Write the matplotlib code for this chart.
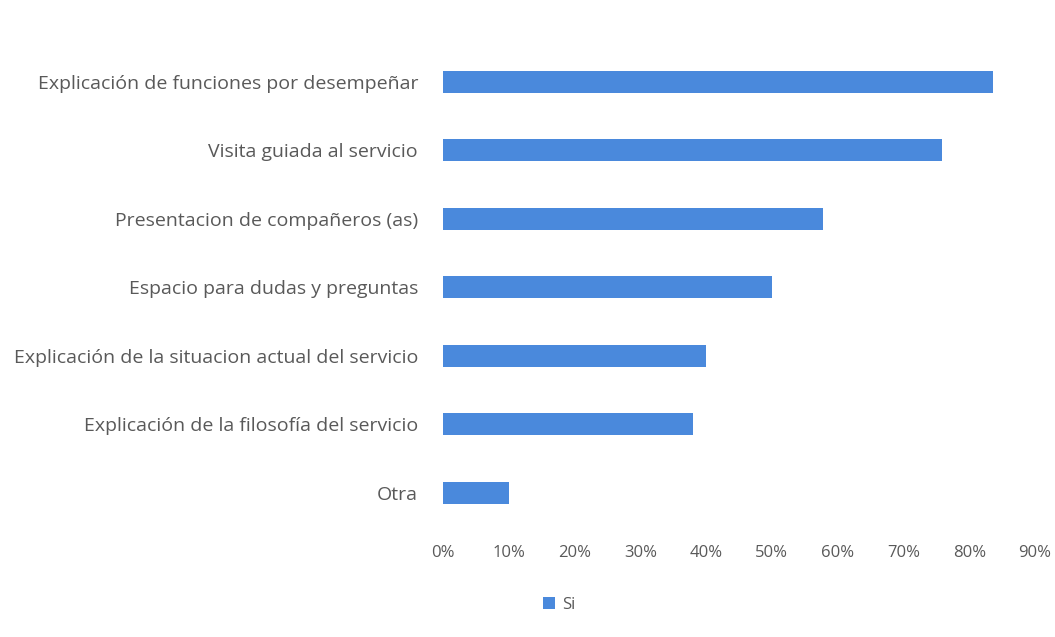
import matplotlib.pyplot as plt
from matplotlib.ticker import PercentFormatter

plt.rcParams['font.family'] = ['Open Sans', 'DejaVu Sans']

categorias = [
    'Explicación de funciones por desempeñar',
    'Visita guiada al servicio',
    'Presentacion de compañeros (as)',
    'Espacio para dudas y preguntas',
    'Explicación de la situacion actual del servicio',
    'Explicación de la filosofía del servicio',
    'Otra',
]
si = [0.836, 0.758, 0.577, 0.50, 0.40, 0.38, 0.10]
ticks = [0, 0.1, 0.2, 0.3, 0.4, 0.5, 0.6, 0.7, 0.8, 0.9]

azul = '#4a89dc'
gris = '#595959'

fig = plt.figure(figsize=(10.55, 6.37), dpi=100)
ax = fig.add_axes([0.42, 0.173, 0.561, 0.752])

pos = list(range(len(categorias)))[::-1]
ax.barh(pos, si, height=0.32, color=azul, label='Si')

ax.set_xlim(0, 0.9)
ax.set_ylim(-0.5, len(categorias) - 0.5)
ax.set_xticks(ticks)
ax.xaxis.set_major_formatter(PercentFormatter(1.0, decimals=0))
ax.set_yticks(pos)
ax.set_yticklabels(categorias)
ax.tick_params(axis='both', length=0, colors=gris)
ax.tick_params(axis='x', pad=13, labelsize=12)
ax.tick_params(axis='y', pad=18, labelsize=14)
for s in ax.spines.values():
    s.set_visible(False)

fig.legend(loc='center', bbox_to_anchor=(0.53, 0.05), frameon=False,
           handlelength=0.7, handleheight=0.7, handletextpad=0.4,
           labelcolor=gris, fontsize=12)

fig.savefig('out.png', dpi=100, facecolor='white')
